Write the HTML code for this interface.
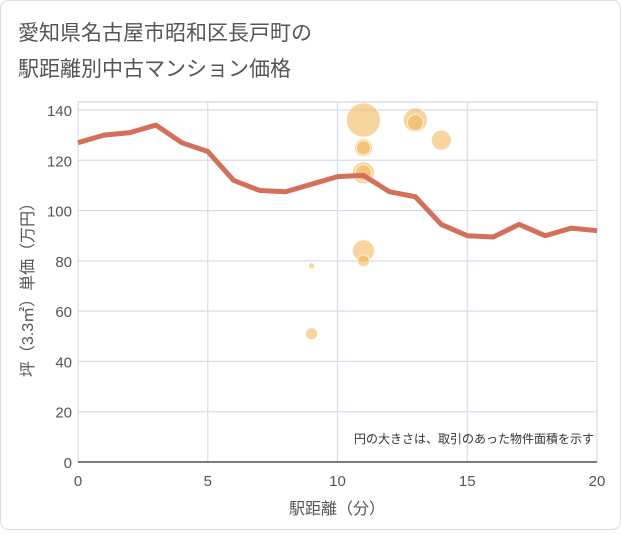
<!DOCTYPE html>
<html><head><meta charset="utf-8"><style>
body{margin:0;background:#fff;font-family:"Liberation Sans","Noto Sans CJK JP",sans-serif}
#wrap{position:relative;width:621px;height:530px}
</style></head><body>
<div id="wrap">
<svg id="chart" width="621" height="530">
<rect x="0.5" y="0.5" width="620" height="529" rx="8" fill="#fff" stroke="#ddd"/>
<text x="18" y="40" font-size="21" fill="#555">愛知県名古屋市昭和区長戸町の</text>
<text x="18" y="76" font-size="21" fill="#555">駅距離別中古マンション価格</text>
<g id="grid"></g>
<g id="bubbles"></g>
<g id="line"></g>
<g id="axes"></g>
<text x="594" y="443" font-size="12" fill="#333" text-anchor="end">円の大きさは、取引のあった物件面積を示す</text>
<text x="337" y="514" font-size="16" fill="#555" text-anchor="middle">駅距離（分）</text>
<text transform="translate(33,286) rotate(-90)" font-size="16" fill="#555" text-anchor="middle">坪（3.3㎡）単価（万円）</text>
</svg>
</div>
<script>
const lineX=[0,1,2,3,4,5,6,7,8,9,10,11,12,13,14,15,16,17,18,19,20];
const lineY=[127,130,131,134,127,123.5,112,108,107.5,110.5,113.5,114,107.5,105.5,94.5,90,89.5,94.5,90,93,92];
const bubbleX=[11,13,13,14,11,11,11,11,11,11,9,9];
const bubbleY=[136,136,135,128,125,125,115,115,84,80,78,51];
const bubbleR=[17,12,8,10,9,7,11,8,11,6,3,6];
const xTicks=[0,5,10,15,20];
const yTicks=[0,20,40,60,80,100,120,140];
const X0=78,X1=597,Y0=462,Y1=110;
const sx=v=>X0+(X1-X0)*v/20, sy=v=>Y0-(Y0-Y1)*v/140;
const NS="http://www.w3.org/2000/svg";
function mk(t,a,p){const e=document.createElementNS(NS,t);for(const k in a)e.setAttribute(k,a[k]);p.appendChild(e);return e;}
const grid=document.getElementById('grid'),axes=document.getElementById('axes');
mk('rect',{x:X0,y:102,width:X1-X0,height:Y0-102,fill:'none',stroke:'#ccc'},grid);
yTicks.forEach(v=>{const l=mk('line',{x1:X0,x2:X1,y1:sy(v),y2:sy(v),stroke:'#d5dee8','stroke-width':1.2},grid);

const t=mk('text',{x:72,y:sy(v)+6,'font-size':15,fill:'#555','text-anchor':'end'},axes);t.textContent=v;
});
xTicks.forEach(v=>{const l=mk('line',{x1:sx(v),x2:sx(v),y1:102,y2:Y0,stroke:'#d5dee8','stroke-width':1.2},grid);

const t=mk('text',{x:sx(v),y:486,'font-size':15,fill:'#555','text-anchor':'middle'},axes);t.textContent=v;
});
const ax=mk('line',{x1:X0,x2:X1,y1:Y0,y2:Y0,stroke:'#555','stroke-width':1.5},axes);

const bg=document.getElementById('bubbles');
bubbleX.forEach((x,i)=>{const c=mk('circle',{cx:sx(x),cy:sy(bubbleY[i]),r:bubbleR[i],fill:'rgba(240,185,95,0.6)',stroke:'rgba(255,255,255,0.7)','stroke-width':1},bg);
});
const p=mk('polyline',{points:lineX.map((x,i)=>sx(x)+','+sy(lineY[i])).join(' '),fill:'none',stroke:'#d4705a','stroke-width':5,'stroke-linejoin':'round'},document.getElementById('line'));

</script>
</body></html>
